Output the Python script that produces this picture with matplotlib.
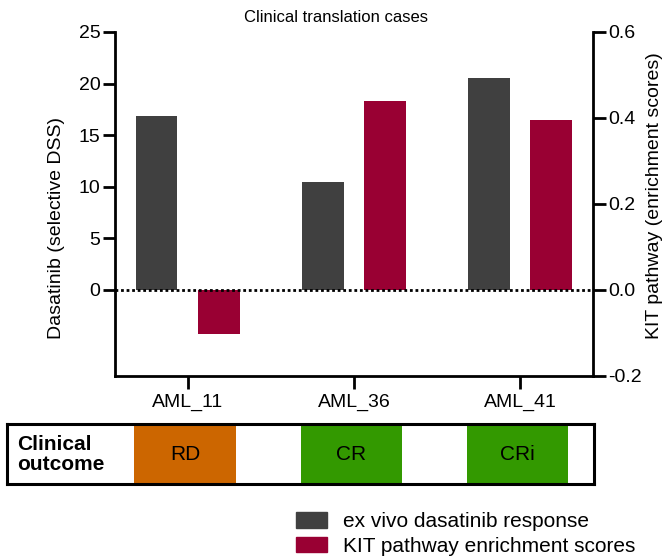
import matplotlib
matplotlib.use('Agg')
import matplotlib.pyplot as plt
from matplotlib.patches import Patch, Rectangle
import numpy as np

plt.rcParams['font.family'] = ['Liberation Sans', 'DejaVu Sans']

# data
cases = ['AML_11', 'AML_36', 'AML_41']
dss = [16.9, 10.5, 20.5]          # ex vivo dasatinib (selective DSS)
kit = [-0.102, 0.44, 0.395]       # KIT pathway enrichment scores
outcomes = ['RD', 'CR', 'CRi']

C_GRAY = '#404040'
C_RED = '#990033'
outcome_colors = {'RD': '#CC6600', 'CR': '#339900', 'CRi': '#339900'}

x = np.arange(len(cases))
off = 0.187
w = 0.25
xlim = (-0.4376, 2.441)

fig = plt.figure(figsize=(6.7, 5.56), dpi=100)
ax = fig.add_axes([115 / 670, 1 - 376 / 556, 478.3 / 670, 344 / 556])
ax2 = ax.twinx()

ax.bar(x - off, dss, w, color=C_GRAY, zorder=2)
ax2.bar(x + off, kit, w, color=C_RED, zorder=2)
ax2.axhline(0, color='black', ls=(0, (1, 1)), lw=2, zorder=5)

ax.set_xlim(*xlim)
ax.set_ylim(-25 / 3, 25)
ax2.set_ylim(-0.2, 0.6)
ax.set_yticks([0, 5, 10, 15, 20, 25])
ax2.set_yticks([-0.2, 0.0, 0.2, 0.4, 0.6])
ax2.set_yticklabels(['-0.2', '0.0', '0.2', '0.4', '0.6'])
ax.set_xticks(x, cases)

for s in ['top', 'right']:
    ax.spines[s].set_visible(False)
for s in ['top', 'left', 'bottom']:
    ax2.spines[s].set_visible(False)
for a in (ax, ax2):
    for s in a.spines.values():
        s.set_linewidth(2)
ax.tick_params(axis='y', length=9, width=2, labelsize=14, pad=1.5)
ax.tick_params(axis='x', length=9, width=2, labelsize=14, pad=4)
ax2.tick_params(axis='y', length=9, width=2, labelsize=14, pad=1.5)

ax.set_ylabel('Dasatinib (selective DSS)', fontsize=14)
ax.yaxis.set_label_coords(-0.1045, 0.43)
ax2.set_ylabel('KIT pathway (enrichment scores)', fontsize=14)
ax2.yaxis.set_label_coords(1.110, 0.525)

fig.text(336 / 670, 1 - 18 / 556, 'Clinical translation cases', fontsize=12,
         ha='center', va='center')

# clinical outcome strip, same x scale as the bars
axo = fig.add_axes([6.7 / 670, 1 - 484.3 / 556, 587.3 / 670, 60 / 556])
axo.set_xlim(-1.089, 2.445)
axo.set_ylim(0, 1)
axo.set_xticks([])
axo.set_yticks([])
for s in axo.spines.values():
    s.set_linewidth(2.2)
    s.set_zorder(5)
for xi, oc in zip(x, outcomes):
    axo.add_patch(Rectangle((xi - 0.32, 0), 0.61, 1, color=outcome_colors[oc], lw=0))
    axo.text(xi - 0.015, 0.5, oc, fontsize=15, ha='center', va='center')
axo.text(0.0175, 0.5, 'Clinical\noutcome', transform=axo.transAxes, fontsize=15,
         fontweight='bold', ha='left', va='center', linespacing=1.1)

handles = [Patch(color=C_GRAY), Patch(color=C_RED)]
fig.legend(handles, ['ex vivo dasatinib response', 'KIT pathway enrichment scores'],
           loc='upper left', bbox_to_anchor=(296 / 670, 1 - 512 / 556), frameon=False,
           fontsize=15, handlelength=1.48, handleheight=0.77, handletextpad=0.78,
           labelspacing=0.28, borderpad=0, borderaxespad=0)

fig.savefig('out.png', dpi=100)
